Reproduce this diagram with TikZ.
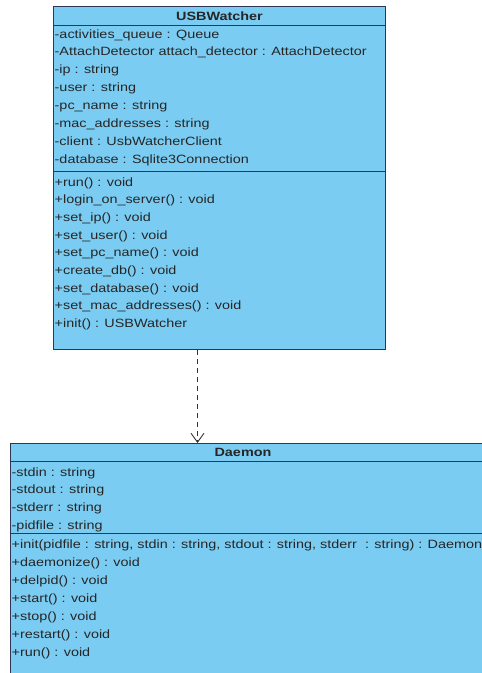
\documentclass[tikz,border=0pt]{standalone}
\usepackage{fontspec}
\setmainfont{Liberation Sans}[FakeStretch=1.2]
\usetikzlibrary{positioning}
\usetikzlibrary{arrows.meta}
\definecolor{umlblue}{RGB}{122,204,242}
\definecolor{umlline}{RGB}{45,55,85}

\tikzset{
  part/.style={draw=umlline, fill=umlblue, line width=1pt, rectangle, anchor=north west, inner sep=0pt},
  member/.style={anchor=west, inner xsep=1.5pt, inner ysep=0pt, text=black!85,
    font=\fontsize{12}{14}\selectfont, text height=8.5pt, text depth=2.5pt},
  classname/.style={font=\bfseries\fontsize{12}{14}\selectfont, text=black!85},
  depend/.style={dash pattern=on 5pt off 4pt, line width=0.9pt, draw=black!80,
    -{Straight Barb[length=9pt, width=13pt]}}
}

\begin{document}
\begin{tikzpicture}[x=1pt,y=-1pt]
    \useasboundingbox (0,0) rectangle (482,673);
    \clip (0,0) rectangle (482,673);

    % USBWatcher
    \node[part, minimum width=332pt, minimum height=19pt] (usb-head) at (53,6) {};
    \node[classname] (usb-title) at (usb-head.center) {USBWatcher};
    \node[part, minimum width=332pt, minimum height=146pt] (usb-attrs) at (53,25) {};
    \node[part, minimum width=332pt, minimum height=178pt] (usb-ops) at (53,171) {};
    \foreach \txt [count=\i] in {-activities\_queue : Queue,
        -AttachDetector attach\_detector : AttachDetector,
        -ip : string, -user : string, -pc\_name : string,
        -mac\_addresses : string, -client : UsbWatcherClient,
        -database : Sqlite3Connection}
      \node[member] (usb-a\i) at (53,{35+17.9*(\i-1)}) {\txt};
    \foreach \txt [count=\i] in {+run() : void, +login\_on\_server() : void,
        +set\_ip() : void, +set\_user() : void, +set\_pc\_name() : void,
        +create\_db() : void, +set\_database() : void,
        +set\_mac\_addresses() : void, +init() : USBWatcher}
      \node[member] (usb-m\i) at (53,{183+17.7*(\i-1)}) {\txt};

    % Daemon
    \node[part, minimum width=480pt, minimum height=18pt] (daemon-head) at (10,443) {};
    \node[classname] (daemon-title) at (243,452) {Daemon};
    \node[part, minimum width=480pt, minimum height=72pt] (daemon-attrs) at (10,461) {};
    \node[part, minimum width=480pt, minimum height=160pt] (daemon-ops) at (10,533) {};
    \foreach \txt [count=\i] in {-stdin : string, -stdout : string,
        -stderr : string, -pidfile : string}
      \node[member] (daemon-a\i) at (10,{473+17.7*(\i-1)}) {\txt};
    \foreach \txt [count=\i] in {{+init(pidfile : string, stdin : string, stdout : string, stderr\ \ : string) : Daemon},
        +daemonize() : void, +delpid() : void, +start() : void,
        +stop() : void, +restart() : void, +run() : void}
      \node[member] (daemon-m\i) at (10,{545+18*(\i-1)}) {\txt};

    \draw[depend] ([xshift=-22pt]usb-ops.south) -- ([xshift=-22pt]usb-ops.south |- daemon-head.north);
\end{tikzpicture}
\end{document}
